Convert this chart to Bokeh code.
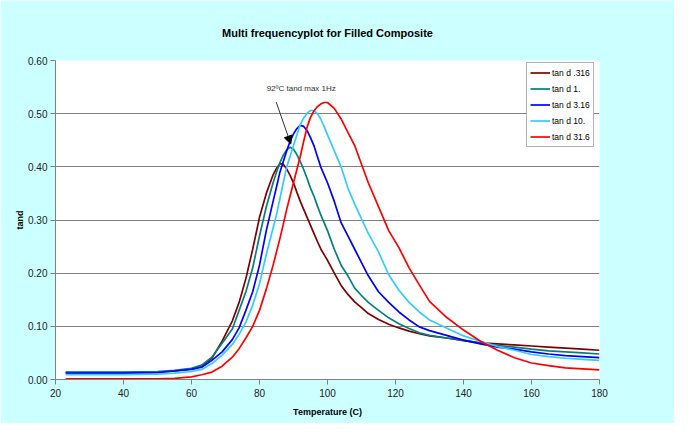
from bokeh.plotting import figure
from bokeh.models import FixedTicker, NumeralTickFormatter, Legend, LegendItem, Label, Arrow, NormalHead
from bokeh.embed import file_html
from bokeh.resources import INLINE

temperature = [23, 30, 40, 50, 55, 60, 63, 66, 69, 72, 74, 76, 78, 80, 82,
               84, 85, 86, 87, 88, 89, 90, 91, 92, 93, 94, 95, 96, 97, 98, 99, 100,
               102, 104, 106, 108, 110, 112, 115, 118, 121, 124, 127, 130, 135, 140,
               145, 150, 155, 160, 165, 170, 175, 180]

tan_d_0316 = [0.013, 0.013, 0.013, 0.014, 0.016, 0.020, 0.026, 0.040, 0.072, 0.110, 0.145, 0.190, 0.245, 0.305, 0.350,
              0.385, 0.397, 0.406, 0.405, 0.396, 0.384, 0.370, 0.352, 0.335, 0.320, 0.305, 0.290, 0.275, 0.260, 0.246, 0.235, 0.224,
              0.200, 0.177, 0.160, 0.146, 0.135, 0.124, 0.113, 0.104, 0.097, 0.091, 0.086, 0.082, 0.078, 0.073,
              0.069, 0.067, 0.065, 0.063, 0.061, 0.059, 0.057, 0.055]

tan_d_1 = [0.014, 0.014, 0.014, 0.015, 0.017, 0.021, 0.027, 0.042, 0.068, 0.095, 0.130, 0.165, 0.210, 0.270, 0.325,
           0.370, 0.390, 0.408, 0.422, 0.432, 0.437, 0.433, 0.423, 0.410, 0.395, 0.378, 0.360, 0.345, 0.327, 0.310, 0.295, 0.280,
           0.245, 0.215, 0.195, 0.172, 0.158, 0.145, 0.130, 0.116, 0.105, 0.096, 0.088, 0.083, 0.078, 0.074,
           0.068, 0.064, 0.061, 0.057, 0.054, 0.052, 0.050, 0.048]

tan_d_316 = [0.012, 0.012, 0.012, 0.013, 0.016, 0.019, 0.023, 0.036, 0.052, 0.075, 0.097, 0.130, 0.165, 0.215, 0.280,
             0.335, 0.362, 0.390, 0.410, 0.430, 0.448, 0.462, 0.472, 0.478, 0.476, 0.468, 0.455, 0.440, 0.420, 0.400, 0.385, 0.370,
             0.335, 0.295, 0.270, 0.245, 0.220, 0.195, 0.165, 0.145, 0.127, 0.112, 0.099, 0.092, 0.083, 0.074,
             0.067, 0.061, 0.057, 0.052, 0.048, 0.045, 0.043, 0.041]

tan_d_10 = [0.009, 0.009, 0.009, 0.010, 0.012, 0.015, 0.019, 0.030, 0.046, 0.066, 0.085, 0.108, 0.140, 0.180, 0.235,
            0.285, 0.310, 0.340, 0.370, 0.400, 0.420, 0.440, 0.460, 0.480, 0.492, 0.501, 0.506, 0.506, 0.500, 0.490, 0.476, 0.460,
            0.430, 0.400, 0.360, 0.330, 0.302, 0.275, 0.240, 0.197, 0.168, 0.145, 0.127, 0.112, 0.097, 0.082,
            0.072, 0.062, 0.055, 0.047, 0.043, 0.040, 0.038, 0.036]

tan_d_316b = [0.001, 0.001, 0.001, 0.001, 0.002, 0.005, 0.009, 0.014, 0.025, 0.042, 0.058, 0.078, 0.100, 0.130, 0.170,
              0.215, 0.240, 0.265, 0.292, 0.320, 0.345, 0.370, 0.395, 0.420, 0.448, 0.475, 0.493, 0.505, 0.513, 0.518, 0.521, 0.521,
              0.510, 0.490, 0.465, 0.440, 0.405, 0.370, 0.325, 0.280, 0.248, 0.210, 0.178, 0.147, 0.117, 0.093,
              0.072, 0.055, 0.041, 0.031, 0.026, 0.022, 0.020, 0.018]

series_names = ["tan d .316", "tan d 1.", "tan d 3.16", "tan d 10.", "tan d 31.6"]
series_values = [tan_d_0316, tan_d_1, tan_d_316, tan_d_10, tan_d_316b]
series_colors = ["#800000", "#008080", "#0000FF", "#33CCFF", "#FF0000"]

x_ticks = [20, 40, 60, 80, 100, 120, 140, 160, 180]
y_ticks = [0.0, 0.1, 0.2, 0.3, 0.4, 0.5, 0.6]

FONT = "Liberation Sans"

p = figure(width=674, height=423, x_range=(20, 180), y_range=(0, 0.6),
           output_backend="svg", toolbar_location=None,
           min_border_left=55, min_border_right=75, min_border_top=60, min_border_bottom=44,
           background_fill_color="white", border_fill_color="#CCFFFF")
p.outline_line_color = None

p.title.text = "Multi frequencyplot for Filled Composite"
p.title.align = "center"
p.title.offset = 16
p.title.text_font = FONT
p.title.text_font_size = "11px"
p.title.text_font_style = "bold"
p.title.text_color = "black"
p.title.standoff = 44

items = []
for name, vals, col in zip(series_names, series_values, series_colors):
    r = p.line(temperature, vals, line_color=col, line_width=1.7)
    items.append(LegendItem(label=name, renderers=[r]))

legend = Legend(items=items, location=(471, 232))
legend.label_text_font = FONT
legend.label_text_font_size = "8.5px"
legend.label_text_color = "black"
legend.glyph_width = 20
legend.glyph_height = 13
legend.label_height = 13
legend.spacing = 3
legend.padding = 3
legend.margin = 0
legend.label_standoff = 2
legend.border_line_color = "#666666"
legend.border_line_width = 1
legend.background_fill_color = "white"
legend.background_fill_alpha = 1.0
p.add_layout(legend)

p.xaxis.ticker = FixedTicker(ticks=x_ticks)
p.yaxis.ticker = FixedTicker(ticks=y_ticks)
p.yaxis.formatter = NumeralTickFormatter(format="0.00")
for ax in (p.xaxis, p.yaxis):
    ax.axis_line_color = "#808080"
    ax.major_tick_line_color = "#808080"
    ax.major_tick_out = 5
    ax.major_tick_in = 0
    ax.minor_tick_line_color = None
    ax.major_label_text_font = FONT
    ax.major_label_text_font_size = "10px"
    ax.major_label_text_color = "#222222"
    ax.axis_label_text_font = FONT
    ax.axis_label_text_font_size = "9px"
    ax.axis_label_text_font_style = "bold"
    ax.axis_label_text_color = "black"
p.xaxis.axis_label = "Temperature (C)"
p.yaxis.axis_label = "tand"
p.xaxis.major_label_standoff = 4
p.xaxis.axis_label_standoff = 7
p.yaxis.major_label_standoff = 3
p.yaxis.axis_label_standoff = 0

p.xgrid.visible = False
p.ygrid.ticker = FixedTicker(ticks=[0.1, 0.2, 0.3, 0.4, 0.5])
p.ygrid.grid_line_color = "#808080"
p.ygrid.grid_line_width = 1

note = Label(x=82.1, y=0.547, text="92ºC tand max 1Hz", text_font=FONT,
             text_font_size="8px", text_color="#333333", text_baseline="middle")
p.add_layout(note)
arrow = Arrow(end=NormalHead(size=8, fill_color="black", line_color="black"),
              x_start=84.9, y_start=0.522, x_end=89.2, y_end=0.443,
              line_color="#333333", line_width=1)
p.add_layout(arrow)

open("out.html", "w").write(file_html(p, INLINE))
